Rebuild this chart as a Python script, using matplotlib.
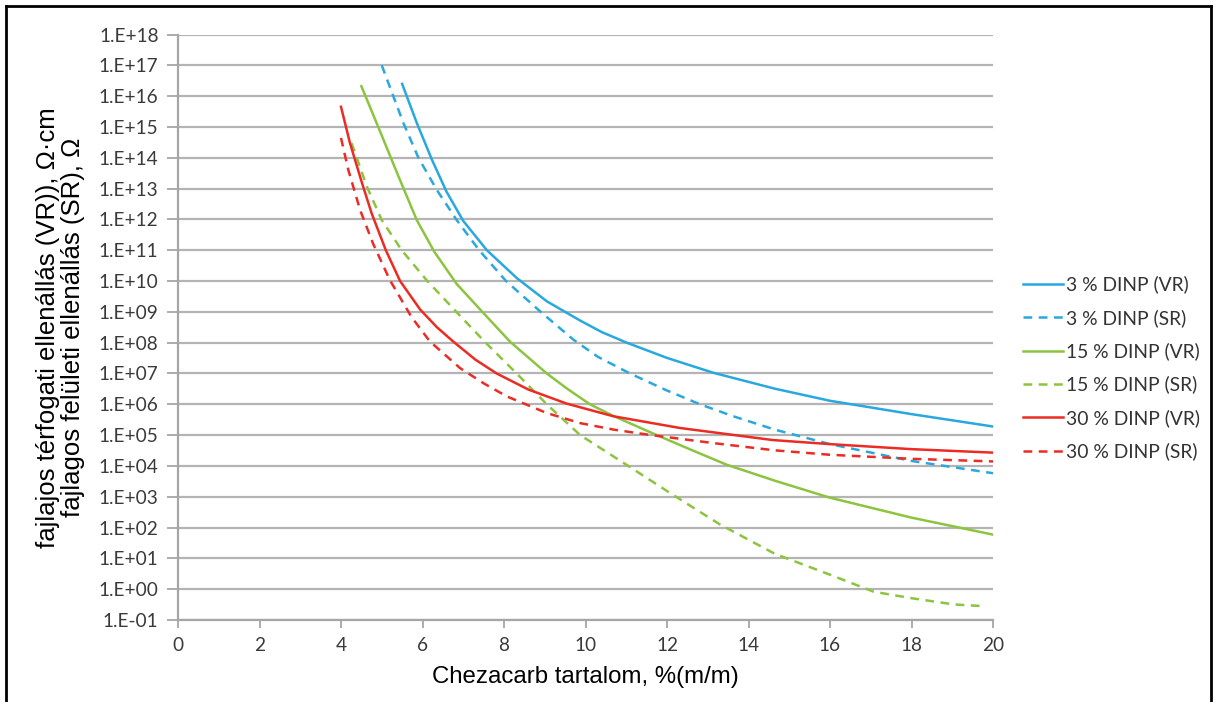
import numpy as np
import matplotlib
matplotlib.use("Agg")
import matplotlib.pyplot as plt
from matplotlib.lines import Line2D

# Chezacarb content, %(m/m) and resistivity values

# 3 % DINP
x_3_vr = [5.5, 5.86, 6.23, 6.59, 7.0, 7.58, 8.31, 9.05, 9.87, 10.4, 11.01, 12.0,
          13.14, 14.65, 16, 18, 20]
y_3_vr = [2.5e16, 1.35e15, 8.7e13, 7.9e12, 8.9e11, 1.0e11, 1.26e10, 2.2e9, 5.2e8,
          2.2e8, 1.0e8, 3.2e7, 1.05e7, 3.2e6, 1.3e6, 4.8e5, 1.9e5]
x_3_sr = [5.0, 5.53, 5.9, 6.35, 6.84, 7.39, 8.05, 8.9, 9.7, 10.3, 11.09, 12.0, 12.81,
          13.6, 14.65, 16, 18, 20]
y_3_sr = [1.0e17, 1.35e15, 1.0e14, 9.1e12, 9.5e11, 1.0e11, 1.0e10, 1.0e9, 1.26e8, 3.5e7,
          1.0e7, 2.8e6, 1.0e6, 4.2e5, 1.5e5, 5.1e4, 1.45e4, 5.8e3]

# 15 % DINP
x_15_vr = [4.5, 4.96, 5.41, 5.86, 6.29, 6.84, 7.49, 8.15, 9.05, 9.55, 10.11, 10.68, 11.75,
           12.6, 13.46, 14.65, 16, 18, 20]
y_15_vr = [2.1e16, 7.1e14, 2.5e13, 9.5e11, 8.9e10, 8.0e9, 9.3e8, 1.07e8, 1.0e7, 3.2e6,
           1.0e6, 4.2e5, 1.0e5, 3.3e4, 1.1e4, 3.3e3, 9.3e2, 2.1e2, 5.9e1]
x_15_sr = [4.26, 4.63, 5.0, 5.49, 6.10, 6.8, 7.55, 8.31, 9.05, 9.87, 11.0, 12.1, 13.3,
           14.65, 16, 17.07, 18, 19.04, 19.8]
y_15_sr = [3.0e14, 1.2e13, 9.5e11, 1.0e11, 1.07e10, 1.1e9, 1.0e8, 1.0e7, 1.0e6, 1.0e5,
           1.1e4, 1.26e3, 1.26e2, 1.4e1, 2.95, 0.83, 0.51, 0.32, 0.28]

# 30 % DINP
x_30_vr = [4.0, 4.22, 4.51, 4.75, 5.1, 5.45, 5.94, 6.35, 6.76, 7.3, 7.82, 8.6, 9.54,
           10.68, 12.32, 14.6, 16, 18, 20]
y_30_vr = [4.5e15, 3.0e14, 1.6e13, 1.6e12, 1.0e11, 1.0e10, 1.2e9, 3.2e8, 1.07e8, 2.8e7,
           1.0e7, 3.0e6, 1.05e6, 4.1e5, 1.7e5, 6.9e4, 5.1e4, 3.5e4, 2.7e4]
x_30_sr = [4.0, 4.18, 4.47, 4.79, 5.2, 5.73, 6.18, 6.92, 7.5, 8.07, 9.05, 9.87, 10.7,
           11.5, 13.14, 14.65, 16, 18, 20]
y_30_sr = [4.4e14, 4.0e13, 2.0e12, 1.6e11, 1.07e10, 6.8e8, 1.1e8, 1.5e7, 4.8e6, 1.8e6,
           5.2e5, 2.45e5, 1.5e5, 1.05e5, 5.5e4, 3.2e4, 2.3e4, 1.7e4, 1.4e4]

series = [
    ("3 % DINP (VR)", x_3_vr, y_3_vr, "#29a8e0", "-"),
    ("3 % DINP (SR)", x_3_sr, y_3_sr, "#29a8e0", "--"),
    ("15 % DINP (VR)", x_15_vr, y_15_vr, "#8cc43f", "-"),
    ("15 % DINP (SR)", x_15_sr, y_15_sr, "#8cc43f", "--"),
    ("30 % DINP (VR)", x_30_vr, y_30_vr, "#ec2b24", "-"),
    ("30 % DINP (SR)", x_30_sr, y_30_sr, "#ec2b24", "--"),
]

x_ticks = list(range(0, 21, 2))
y_exps = list(range(-1, 19))
y_ticklabels = [f"1.E{'+' if e >= 0 else '-'}{abs(e):02d}" for e in y_exps]

DASH = (3.5, 2.6)
LW = 1.8

fig = plt.figure(figsize=(12.17, 7.02), dpi=100)
ax = fig.add_axes([178 / 1217, 1 - 620 / 702, (993 - 178) / 1217, (620 - 34.5) / 702])

for label, xs, ys, color, ls in series:
    line, = ax.plot(xs, ys, color=color, lw=LW, label=label, solid_joinstyle="round")
    if ls == "--":
        line.set_dashes(DASH)

ax.set_yscale("log")
ax.set_xlim(0, 20)
ax.set_ylim(1e-1, 1e18)
ax.set_xticks(x_ticks)
ax.set_xticklabels([str(t) for t in x_ticks], fontfamily="Lato", fontsize=13.7, color="#3a3a3a")
ax.set_yticks([10.0 ** e for e in y_exps])
ax.set_yticklabels(y_ticklabels, fontfamily="Lato", fontsize=13.7, color="#3a3a3a")
ax.yaxis.set_minor_locator(matplotlib.ticker.NullLocator())
ax.tick_params(axis="y", length=8, width=1.3, color="#a6a6a6", pad=6)
ax.tick_params(axis="x", length=6, width=1.3, color="#a6a6a6", pad=6)

ax.grid(True, axis="y", color="#b4b4b4", lw=1.6)
ax.set_axisbelow(True)
for side in ["top", "right"]:
    ax.spines[side].set_visible(False)
for side in ["left", "bottom"]:
    ax.spines[side].set_color("#a6a6a6")
    ax.spines[side].set_linewidth(1.6)

ax.set_xlabel("Chezacarb tartalom, %(m/m)", fontfamily="Liberation Sans", fontsize=17.3,
              color="black", labelpad=9)
ax.set_ylabel("fajlajos térfogati ellenállás (VR)), \u03a9\u00b7cm\nfajlagos felületi ellenállás (SR), \u03a9",
              fontfamily="Liberation Sans", fontsize=18.5, color="black", labelpad=10,
              linespacing=1.05)

handles = [Line2D([], [], color=c, lw=LW, dashes=DASH if ls == "--" else (None, None))
           for _, _, _, c, ls in series]
leg = fig.legend(handles, [s[0] for s in series], loc="center left",
                 bbox_to_anchor=(1023 / 1217, 1 - 368 / 702), frameon=False,
                 prop={"family": "Lato", "size": 13.9}, labelspacing=0.8,
                 handlelength=2.05, handletextpad=0.2, borderpad=0, borderaxespad=0)
for t in leg.get_texts():
    t.set_color("#333333")

# outer frame around the figure
frame_kw = dict(color="black", lw=2, transform=fig.transFigure)
fig.add_artist(Line2D([6 / 1217, 6 / 1217], [0, 1 - 6 / 702], **frame_kw))
fig.add_artist(Line2D([6 / 1217, 1211 / 1217], [1 - 6 / 702, 1 - 6 / 702], **frame_kw))
fig.add_artist(Line2D([1211 / 1217, 1211 / 1217], [0, 1 - 6 / 702], **frame_kw))

fig.savefig("out.png", dpi=100)
